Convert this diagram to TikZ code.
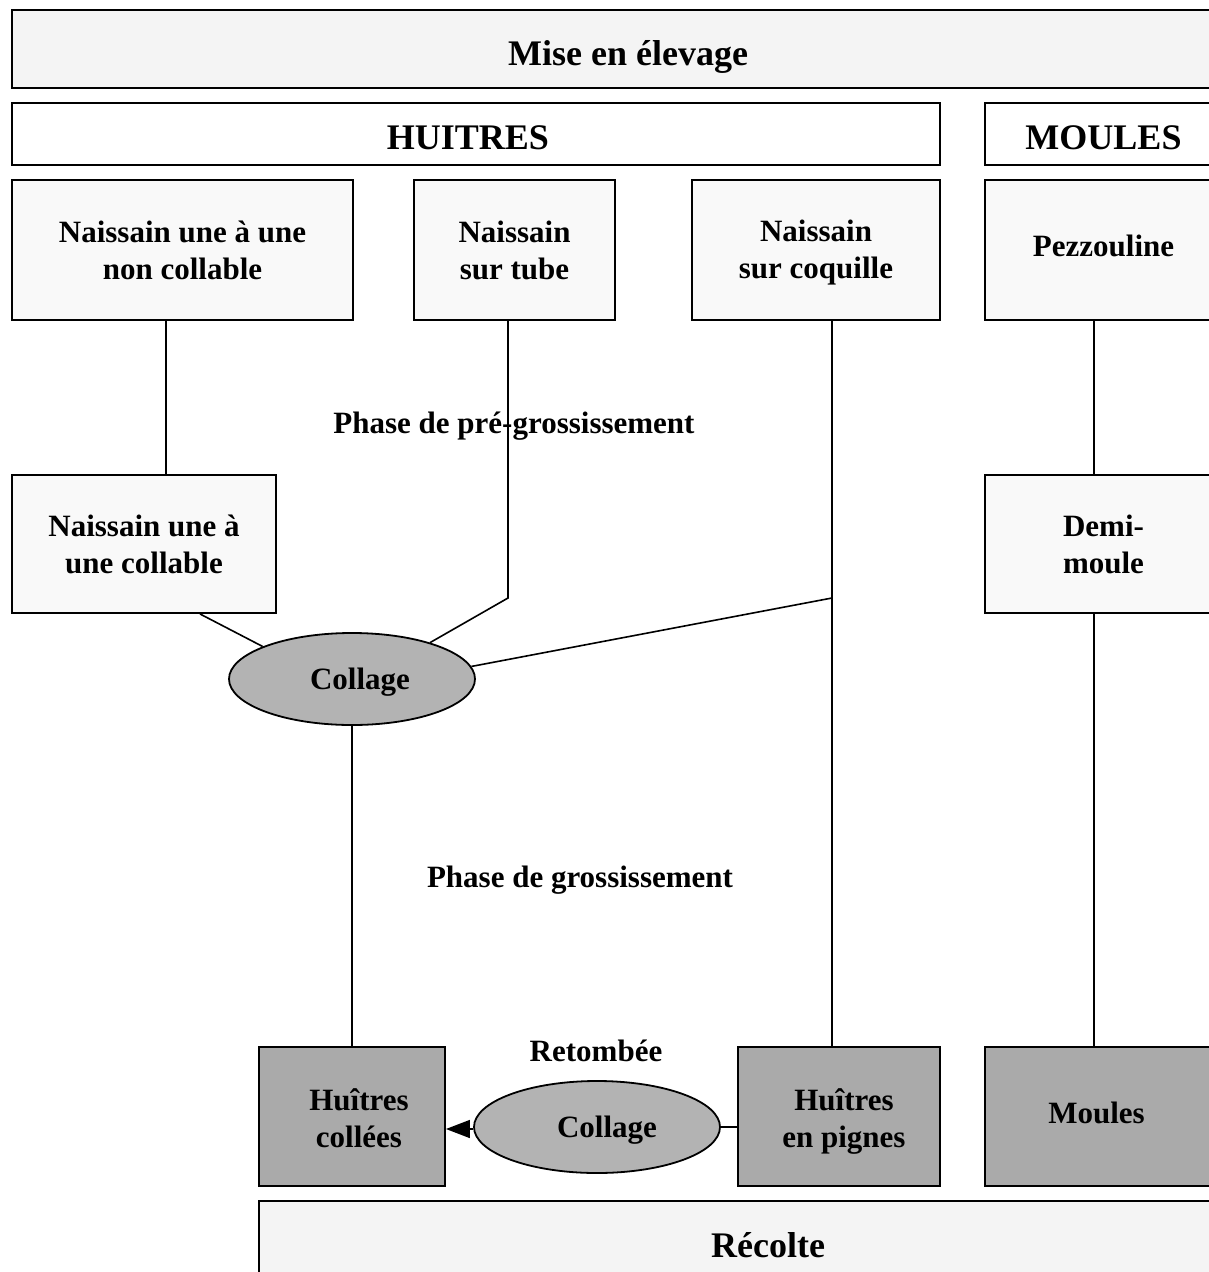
\documentclass[tikz,border=0pt]{standalone}
\usepackage{fontspec}
\setmainfont{Liberation Serif}
\usetikzlibrary{shapes.geometric,arrows.meta}
\definecolor{paleGray}{HTML}{F4F4F4}
\definecolor{dotGray}{HTML}{F9F9F9}
\definecolor{darkGray}{HTML}{AAAAAA}
\definecolor{ovalGray}{HTML}{B3B3B3}
\newcommand{\nudge}[2]{\raisebox{#1}[\height][\depth]{#2}}

\begin{document}
\begin{tikzpicture}[x=1pt,y=-1pt]
	\useasboundingbox (0,0) rectangle (1209,1272);
	\clip (0,0) rectangle (1209,1272);
	\tikzstyle{VertexStyle}=[draw,line width=1.9pt,rectangle,align=center,inner sep=0pt,font=\bfseries\fontsize{31}{37}\selectfont]
	\tikzstyle{TitleStyle}=[VertexStyle,font=\bfseries\fontsize{36}{42}\selectfont]
	\tikzstyle{OvalStyle}=[draw,line width=1.8pt,ellipse,fill=ovalGray,inner sep=0pt,minimum width=246pt,minimum height=92pt,font=\bfseries\fontsize{31}{37}\selectfont]
	\tikzstyle{LabelStyle}=[font=\bfseries\fontsize{31}{37}\selectfont]
	\tikzstyle{EdgeStyle}=[line width=1.6pt]
	\node[TitleStyle,fill=paleGray,minimum width=1236pt,minimum height=78pt] (Mise) at (630,49) {\nudge{-8pt}{Mise en élevage}\hspace*{4pt}};
	\node[TitleStyle,fill=white,minimum width=928pt,minimum height=62pt] (Huitres) at (476,134) {\nudge{-4pt}{HUITRES}\hspace*{16pt}};
	\node[TitleStyle,fill=white,minimum width=237pt,minimum height=62pt] (MoulesH) at (1103.5,134) {\nudge{-4pt}{MOULES}};
	\node[VertexStyle,fill=dotGray,minimum width=341pt,minimum height=140pt] (Una) at (182.5,250) {Naissain une à une\\non collable};
	\node[VertexStyle,fill=dotGray,minimum width=201pt,minimum height=140pt] (Tube) at (514.5,250) {Naissain\\sur tube};
	\node[VertexStyle,fill=dotGray,minimum width=248pt,minimum height=140pt] (Coq) at (816,250) {\nudge{-3pt}{Naissain}\\\nudge{-3pt}{sur coquille}};
	\node[VertexStyle,fill=dotGray,minimum width=237pt,minimum height=140pt] (Pezz) at (1103.5,250) {\nudge{4pt}{Pezzouline}};
	\node[VertexStyle,fill=dotGray,minimum width=264pt,minimum height=138pt] (Collable) at (144,544) {Naissain une à\\une collable};
	\node[VertexStyle,fill=dotGray,minimum width=237pt,minimum height=138pt] (Demi) at (1103.5,544) {Demi-\\moule};
	\node[OvalStyle] (Coll1) at (352,679) {\hspace*{16pt}\nudge{-3pt}{Collage}};
	\node[VertexStyle,fill=darkGray,minimum width=186pt,minimum height=139pt] (Collees) at (352,1116.5) {\hspace*{14pt}\nudge{-2pt}{Huîtres}\\\hspace*{14pt}\nudge{-2pt}{collées}};
	\node[VertexStyle,fill=darkGray,minimum width=202pt,minimum height=139pt] (Pignes) at (839,1116.5) {\hspace*{10pt}\nudge{-5pt}{Huîtres}\\\hspace*{10pt}\nudge{-5pt}{en pignes}};
	\node[VertexStyle,fill=darkGray,minimum width=237pt,minimum height=139pt] (Moules) at (1103.5,1116.5) {\nudge{4pt}{Moules}\hspace*{14pt}};
	\node[OvalStyle] (Coll2) at (597,1127) {\hspace*{20pt}\nudge{-3pt}{Collage}};
	\node[TitleStyle,fill=paleGray,minimum width=1018pt,minimum height=89pt] (Recolte) at (768,1245.5) {Récolte};
	\node[LabelStyle] (PreGros) at (514,426) {Phase de pré-grossissement};
	\node[LabelStyle] (Gros) at (580,880) {Phase de grossissement};
	\node[LabelStyle] (Retombee) at (596,1051) {Retombée};
	\coordinate (JCoq) at (832,598);
	\draw[EdgeStyle] ([xshift=-16.5pt]Una.south) -- ([xshift=22pt]Collable.north);
	\draw[EdgeStyle] ([xshift=56pt]Collable.south) -- (Coll1.160);
	\draw[EdgeStyle] ([xshift=-6.5pt]Tube.south) -- ([xshift=-6.5pt]Tube.south |- JCoq) -- (Coll1.25);
	\draw[EdgeStyle] ([xshift=16pt]Coq.south) -- ([xshift=-7pt]Pignes.north);
	\draw[EdgeStyle] (JCoq) -- (Coll1.6);
	\draw[EdgeStyle] (Coll1.south) -- (Collees.north);
	\draw[EdgeStyle] ([xshift=-9.5pt]Pezz.south) -- ([xshift=-9.5pt]Demi.north);
	\draw[EdgeStyle] ([xshift=-9.5pt]Demi.south) -- ([xshift=-9.5pt]Moules.north);
	\draw[EdgeStyle] (Pignes.west |- Coll2.east) -- (Coll2.east);
	\draw[EdgeStyle,-{Triangle[length=24pt,width=18pt]}] ([yshift=-2pt]Coll2.west) -- ([yshift=-2pt]Coll2.west -| Collees.east);
\end{tikzpicture}
\end{document}
